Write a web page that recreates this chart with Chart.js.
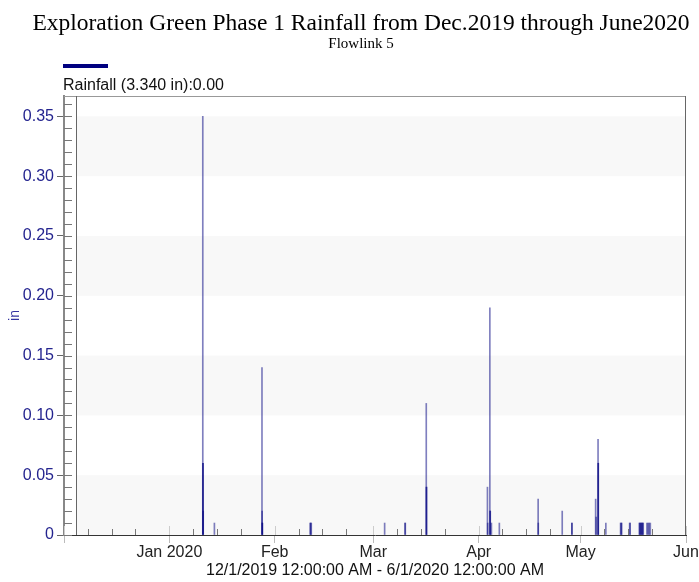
<!DOCTYPE html>
<html>
<head>
<meta charset="utf-8">
<script src="https://cdn.jsdelivr.net/npm/chart.js@4.4.1/dist/chart.umd.min.js"></script>
<style>
html, body { margin: 0; padding: 0; background: #fff; }
#wrap { width: 699px; height: 582px; }
</style>
</head>
<body>
<div id="wrap"><canvas id="rainChart" width="699" height="582"></canvas></div>
<script>
const chartTitle = "Exploration Green Phase 1 Rainfall from Dec.2019 through June2020";
const chartSubtitle = "Flowlink 5";
const legendText = "Rainfall (3.340 in):0.00";
const rangeText = "12/1/2019 12:00:00 AM - 6/1/2020 12:00:00 AM";

// rainfall readings (inches)
const rainTimes = [
  "2020-01-10 20:00", "2020-01-10 21:00", "2020-01-10 22:00", "2020-01-10 23:00",
  "2020-01-14 06:00",
  "2020-01-28 06:00", "2020-01-28 07:00", "2020-01-28 08:00", "2020-01-28 09:00",
  "2020-02-11 10:00", "2020-02-11 14:00", "2020-02-11 18:00",
  "2020-03-04 08:00",
  "2020-03-10 08:00", "2020-03-10 10:00",
  "2020-03-16 14:00", "2020-03-16 15:00", "2020-03-16 16:00",
  "2020-04-03 14:00", "2020-04-03 16:00", "2020-04-04 07:00", "2020-04-04 09:00", "2020-04-04 10:00", "2020-04-04 18:00",
  "2020-04-07 02:00",
  "2020-04-18 12:00", "2020-04-18 13:00",
  "2020-04-25 14:00",
  "2020-04-28 10:00", "2020-04-28 11:00",
  "2020-05-05 10:00", "2020-05-05 14:00",
  "2020-05-06 03:00", "2020-05-06 04:00", "2020-05-06 05:00",
  "2020-05-08 10:00",
  "2020-05-12 18:00", "2020-05-12 22:00", "2020-05-13 02:00",
  "2020-05-15 10:00", "2020-05-15 14:00",
  "2020-05-18 06:00", "2020-05-18 10:00", "2020-05-18 14:00", "2020-05-18 18:00",
  "2020-05-18 22:00", "2020-05-19 02:00", "2020-05-19 06:00", "2020-05-19 10:00",
  "2020-05-20 12:00", "2020-05-20 20:00", "2020-05-21 04:00", "2020-05-21 12:00"
];
const rainValues = [
  0.35, 0.06, 0.06, 0.02,
  0.01,
  0.14, 0.02, 0.01, 0.01,
  0.01, 0.01, 0.01,
  0.01,
  0.01, 0.01,
  0.11, 0.04, 0.04,
  0.04, 0.01, 0.19, 0.02, 0.02, 0.01,
  0.01,
  0.03, 0.01,
  0.02,
  0.01, 0.01,
  0.03, 0.015,
  0.08, 0.06, 0.06,
  0.01,
  0.01, 0.01, 0.01,
  0.01, 0.01,
  0.01, 0.01, 0.01, 0.01,
  0.01, 0.01, 0.01, 0.01,
  0.01, 0.01, 0.01, 0.01
];

const startDate = "2019-12-01";
const monthStarts = ["2019-12-01", "2020-01-01", "2020-02-01", "2020-03-01", "2020-04-01", "2020-05-01", "2020-06-01"];
const monthLabels = ["", "Jan 2020", "Feb", "Mar", "Apr", "May", "Jun"];
const minorDays = [8, 15, 22];
const yTicks = [0, 0.05, 0.10, 0.15, 0.20, 0.25, 0.30, 0.35];

function dayOf(s) {
  const [d, t] = s.split(" ");
  const [Y, M, D] = d.split("-").map(Number);
  const [h, m] = (t || "00:00").split(":").map(Number);
  const [sy, sm, sd] = startDate.split("-").map(Number);
  return (Date.UTC(Y, M - 1, D, h, m) - Date.UTC(sy, sm - 1, sd)) / 86400000;
}

const monthTickDays = monthStarts.map(dayOf);
const minorTickDays = [];
monthStarts.slice(0, -1).forEach(ms => {
  minorDays.forEach(d => minorTickDays.push(dayOf(ms.slice(0, 8) + String(d).padStart(2, "0"))));
});
const xTickDays = monthTickDays.concat(minorTickDays).sort((a, b) => a - b);

const points = rainTimes.map((t, i) => ({ x: dayOf(t), y: rainValues[i] }));

const decor = {
  id: "decor",
  beforeDatasetsDraw(chart) {
    const { ctx, chartArea: a, scales: { y } } = chart;
    const plotLeft = a.left + 12;
    ctx.save();
    ctx.fillStyle = "#f8f8f8";
    for (let i = 0; i < yTicks.length; i += 2) {
      const y0 = y.getPixelForValue(yTicks[i]);
      const y1 = y.getPixelForValue(yTicks[i] + 0.05);
      ctx.fillRect(plotLeft, y1, a.right - plotLeft, y0 - y1);
    }
    ctx.lineWidth = 1;
    ctx.strokeStyle = "#999";
    ctx.beginPath();
    ctx.moveTo(a.left, a.top + 0.5);
    ctx.lineTo(a.right, a.top + 0.5);
    ctx.stroke();
    ctx.strokeStyle = "#666";
    ctx.beginPath();
    ctx.moveTo(a.right - 0.5, a.top);
    ctx.lineTo(a.right - 0.5, a.bottom);
    ctx.moveTo(plotLeft + 0.5, a.top);
    ctx.lineTo(plotLeft + 0.5, a.bottom);
    ctx.stroke();
    ctx.restore();
  },
  afterDatasetsDraw(chart) {
    const { ctx, chartArea: a, scales: { x, y } } = chart;
    ctx.save();
    ctx.lineWidth = 1;
    // y minor ticks, pointing into the plot
    ctx.strokeStyle = "#777";
    ctx.beginPath();
    for (let k = 0; k <= 36; k++) {
      const py = Math.round(y.getPixelForValue(k / 100)) + 0.5;
      ctx.moveTo(a.left, py);
      ctx.lineTo(a.left + 8, py);
    }
    ctx.stroke();
    // x inner ticks
    ctx.beginPath();
    minorTickDays.forEach(d => {
      const px = Math.round(x.getPixelForValue(d)) + 0.5;
      ctx.moveTo(px, a.bottom);
      ctx.lineTo(px, a.bottom - 6);
    });
    ctx.stroke();
    ctx.strokeStyle = "#ccc";
    ctx.beginPath();
    monthTickDays.forEach(d => {
      const px = Math.round(x.getPixelForValue(d)) + 0.5;
      ctx.moveTo(px, a.bottom);
      ctx.lineTo(px, a.bottom - 9);
    });
    ctx.stroke();
    ctx.restore();
  },
  afterDraw(chart) {
    const { ctx, chartArea: a } = chart;
    ctx.save();
    ctx.fillStyle = "#000";
    ctx.textAlign = "center";
    ctx.textBaseline = "alphabetic";
    ctx.font = "23.5px 'Liberation Serif'";
    ctx.fillText(chartTitle, 361, 30);
    ctx.font = "15px 'Liberation Serif'";
    ctx.fillText(chartSubtitle, 361, 48);
    ctx.fillStyle = "#000080";
    ctx.fillRect(a.left - 1, 64, 45, 4);
    ctx.fillStyle = "#111";
    ctx.textAlign = "left";
    ctx.font = "16px 'Liberation Sans'";
    ctx.fillText(legendText, a.left - 1, 90);
    ctx.restore();
  }
};

new Chart(document.getElementById("rainChart"), {
  type: "bar",
  data: {
    datasets: [{
      label: "Rainfall",
      data: points,
      backgroundColor: "rgba(0,0,128,0.5)",
      borderWidth: 0,
      barThickness: 1,
      grouped: false
    }]
  },
  options: {
    responsive: false,
    animation: false,
    layout: { padding: { top: 96, right: 13, left: 0, bottom: 0 } },
    plugins: {
      legend: { display: false },
      tooltip: { enabled: false }
    },
    scales: {
      x: {
        type: "linear",
        min: 0,
        max: monthTickDays[monthTickDays.length - 1],
        offset: false,
        afterBuildTicks: s => { s.ticks = xTickDays.map(v => ({ value: v })); },
        afterFit: s => { s.height = 47; },
        ticks: {
          autoSkip: false,
          maxRotation: 0,
          padding: 0,
          color: "#222",
          font: { family: "'Liberation Sans'", size: 16 },
          callback: v => {
            const i = monthTickDays.indexOf(v);
            return i >= 0 ? monthLabels[i] : "";
          }
        },
        grid: {
          offset: false,
          drawOnChartArea: false,
          tickLength: 8,
          color: c => (c.tick && monthTickDays.includes(c.tick.value)) ? "#bbb" : "rgba(0,0,0,0)"
        },
        border: { color: "#333" },
        title: {
          display: true,
          text: rangeText,
          color: "#111",
          font: { family: "'Liberation Sans'", size: 16 },
          padding: { top: 0, bottom: 2 }
        }
      },
      y: {
        min: 0,
        max: 0.367,
        afterBuildTicks: s => { s.ticks = yTicks.map(v => ({ value: v })); },
        afterFit: s => { s.width = 64; },
        ticks: {
          color: "#24248f",
          padding: 3,
          font: { family: "'Liberation Sans'", size: 16 },
          callback: v => v === 0 ? "0" : v.toFixed(2)
        },
        grid: { drawOnChartArea: false, tickLength: 7, color: "#666" },
        border: { color: "#888", width: 2 },
        title: {
          display: true,
          text: "in",
          color: "#3434a0",
          font: { family: "'Liberation Sans'", size: 14 },
          padding: { top: 7, bottom: 0 }
        }
      }
    }
  },
  plugins: [decor]
});
</script>
</body>
</html>
